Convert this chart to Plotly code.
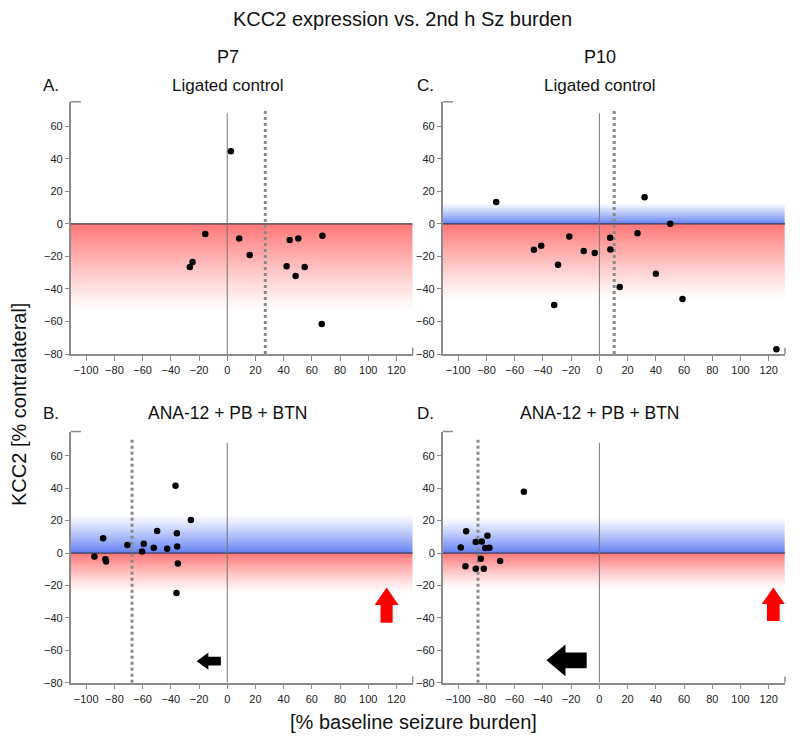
import numpy as np
import plotly.graph_objects as go

# ---------------- data ----------------
# Panel A: P7, ligated control
a_x = [2.6, -15.6, -24.6, -26.5, 8.5, 15.9, 42.1, 44.3, 48.5, 50.4, 54.9, 67.5, 67.0]
a_y = [44.6, -6.2, -23.4, -26.5, -9.0, -19.1, -26.1, -9.9, -32.0, -9.0, -26.5, -7.4, -61.6]
# Panel C: P10, ligated control
c_x = [-73.1, -46.4, -41.2, -29.3, -32.0, -21.3, -11.1, -3.3, 7.6, 7.8, 14.4, 27.0, 32.0,
       40.0, 50.2, 58.9, 125.4]
c_y = [13.4, -15.9, -13.4, -25.2, -49.9, -7.8, -16.7, -17.9, -8.5, -15.7, -38.8, -5.8, 16.3,
       -30.7, 0.0, -46.2, -77.1]
# Panel B: P7, ANA-12 + PB + BTN
b_x = [-94.2, -88.0, -86.4, -85.9, -70.8, -60.4, -59.2, -52.1, -49.7, -42.6, -36.7, -35.7,
       -35.5, -35.0, -36.0, -25.8]
b_y = [-2.1, 9.1, -3.9, -5.2, 4.9, 1.0, 5.8, 3.3, 13.6, 2.7, 41.6, 12.2, 4.1, -6.4, -24.7, 20.4]
# Panel D: P10, ANA-12 + PB + BTN
d_x = [-98.2, -94.4, -94.9, -87.6, -87.6, -84.0, -83.3, -81.9, -80.9, -79.3, -77.9, -70.3, -53.5]
d_y = [3.5, 13.4, -8.2, 6.8, -9.7, -3.5, 7.2, -9.7, 3.1, 10.7, 3.3, -4.9, 37.9]

# median seizure burden (dotted lines), per panel A, C, B, D
medians = [27.0, 10.5, -67.5, -86.0]
# extent of blue (above 0) / red (below 0) bands, per panel A, C, B, D
band_blue = [0, 13, 24, 22]
band_red = [54, 47, 25, 22]

# black arrows (B, D): tail x, head x, y centre, body half-h, head half-h, head length
black_arrows = {
    "x3": [-4.5, -21.7, -66.7, 2.7, 5.3, 8.3],
    "x4": [-9.0, -37.5, -66.2, 4.9, 9.8, 13.5],
}
# red arrows (B, D): x centre, y bottom, y head base, y tip, body half-w, head half-w
red_arrows = {
    "x3": [113.0, -43.0, -32.0, -21.2, 4.3, 8.5],
    "x4": [123.2, -42.0, -31.5, -21.2, 4.5, 8.2],
}

x_ticks = list(range(-100, 121, 20))
y_ticks = list(range(-80, 61, 20))
X_RANGE = [-111, 131.5]
Y_RANGE = [-80, 75]
REF_TOP = 68
MED_TOP = 70

# page has an 8px body margin: figure is placed at (8, 8)
OFF = 8
W, H = 792, 736


def fx(px):
    return (px - OFF) / W


def fy(py):
    return 1 - (py - OFF) / H


panels = [
    # (x axis, y axis, xdom px, ydom px(top,bottom), x, y)
    ("x", "y", (70.7, 412.7), (101.8, 354.0), a_x, a_y),
    ("x2", "y2", (442.7, 785.0), (101.8, 354.0), c_x, c_y),
    ("x3", "y3", (70.7, 412.7), (431.5, 682.7), b_x, b_y),
    ("x4", "y4", (442.7, 785.0), (431.5, 682.7), d_x, d_y),
]

fig = go.Figure()
AX = "#8c8c8c"
tickfont = dict(family="Liberation Sans Narrow, Arial Narrow, Liberation Sans, Arial",
                size=11, color="#222")

for i, (xa, ya, xd, yd, xs, ys) in enumerate(panels):
    # gradient band (heatmap with signed intensity)
    eb, er = band_blue[i], band_red[i]
    edges = np.arange(-er, eb + 0.001, 0.5)
    centers = (edges[:-1] + edges[1:]) / 2
    vals = []
    for yc in centers:
        if yc > 0:
            t = yc / eb
            vals.append([(1 - t) ** 1.15])
        else:
            t = -yc / er
            vals.append([-(1 - t) ** 1.15])
    fig.add_trace(go.Heatmap(
        x=X_RANGE, y=edges, z=vals, zmin=-1, zmax=1,
        colorscale=[[0, "rgb(255,118,118)"], [0.5, "rgb(255,255,255)"], [1, "rgb(100,130,245)"]],
        showscale=False, hoverinfo="skip", xaxis=xa, yaxis=ya))
    # zero horizontal line
    fig.add_trace(go.Scatter(x=X_RANGE, y=[0, 0], mode="lines",
                             line=dict(color="#3c3c50", width=1.2), hoverinfo="skip",
                             showlegend=False, xaxis=xa, yaxis=ya))
    # x = 0 reference line
    fig.add_trace(go.Scatter(x=[0, 0], y=[Y_RANGE[0], REF_TOP], mode="lines",
                             line=dict(color="#777", width=1), hoverinfo="skip",
                             showlegend=False, xaxis=xa, yaxis=ya))
    # median dotted line
    fig.add_trace(go.Scatter(x=[medians[i], medians[i]], y=[Y_RANGE[0], MED_TOP], mode="lines",
                             line=dict(color="#8a8a8a", width=3, dash="dot"), hoverinfo="skip",
                             showlegend=False, xaxis=xa, yaxis=ya))
    # points
    fig.add_trace(go.Scatter(x=xs, y=ys, mode="markers",
                             marker=dict(color="black", size=6.5), showlegend=False,
                             xaxis=xa, yaxis=ya))

    suffix = "" if xa == "x" else xa[1:]
    fig.update_layout({
        "xaxis" + suffix: dict(domain=[fx(xd[0]), fx(xd[1])], range=X_RANGE, anchor=ya,
                               tickvals=x_ticks, showline=True, linecolor=AX, linewidth=1.5,
                               ticks="outside", ticklen=5, tickcolor=AX, tickwidth=1.2,
                               showgrid=False, zeroline=False, tickfont=tickfont,
                               fixedrange=True, automargin=False),
        "yaxis" + suffix: dict(domain=[fy(yd[1]), fy(yd[0])], range=Y_RANGE, anchor=xa,
                               tickvals=y_ticks, showline=True, linecolor=AX, linewidth=1.5,
                               ticks="outside", ticklen=4, tickcolor=AX, tickwidth=1.2,
                               showgrid=False, zeroline=False, tickfont=tickfont,
                               fixedrange=True, automargin=False),
    })
    # axis end brackets
    fig.add_shape(type="line", xref=xa + " domain", yref=ya + " domain",
                  x0=0, x1=0.03, y0=1, y1=1, line=dict(color=AX, width=1.5))
    fig.add_shape(type="line", xref=xa + " domain", yref=ya + " domain",
                  x0=1, x1=1, y0=0, y1=0.025, line=dict(color=AX, width=1.5))

# arrows
for xa, (xt, xh, yc, bh, hh, hl) in black_arrows.items():
    ya = "y" + xa[1:]
    px = [xt, xh + hl, xh + hl, xh, xh + hl, xh + hl, xt, xt]
    py = [yc + bh, yc + bh, yc + hh, yc, yc - hh, yc - bh, yc - bh, yc + bh]
    fig.add_trace(go.Scatter(x=px, y=py, mode="lines", fill="toself", fillcolor="black",
                             line=dict(width=0, color="black"), hoverinfo="skip",
                             showlegend=False, xaxis=xa, yaxis=ya))
for xa, (xc, yb, yhb, ytip, bw, hw) in red_arrows.items():
    ya = "y" + xa[1:]
    px = [xc - bw, xc - bw, xc - hw, xc, xc + hw, xc + bw, xc + bw, xc - bw]
    py = [yb, yhb, yhb, ytip, yhb, yhb, yb, yb]
    fig.add_trace(go.Scatter(x=px, y=py, mode="lines", fill="toself", fillcolor="#ff0000",
                             line=dict(width=0, color="#ff0000"), hoverinfo="skip",
                             showlegend=False, xaxis=xa, yaxis=ya))

FONT = "Liberation Sans, Arial, sans-serif"


def txt(text, px, py, size, angle=0):
    fig.add_annotation(text=text, x=fx(px), y=fy(py), xref="paper", yref="paper",
                       showarrow=False, xanchor="center", yanchor="middle", textangle=angle,
                       font=dict(family=FONT, size=size, color="#111"))


txt("KCC2 expression vs. 2nd h Sz burden", 402, 19, 20)
txt("P7", 228, 57, 18)
txt("P10", 600, 57, 18)
txt("A.", 51, 85, 17)
txt("Ligated control", 228, 85, 17)
txt("C.", 425, 85, 17)
txt("Ligated control", 600, 85, 17)
txt("B.", 51, 413, 17)
txt("ANA-12 + PB + BTN", 228, 413, 17.5)
txt("D.", 425, 413, 17)
txt("ANA-12 + PB + BTN", 600, 413, 17.5)
txt("KCC2 [% contralateral]", 19, 405, 20, angle=-90)
txt("[% baseline seizure burden]", 413, 722, 20)

fig.update_layout(width=W, height=H, margin=dict(l=0, r=0, t=0, b=0),
                  plot_bgcolor="white", paper_bgcolor="white", showlegend=False)

fig.write_html("out.html")
